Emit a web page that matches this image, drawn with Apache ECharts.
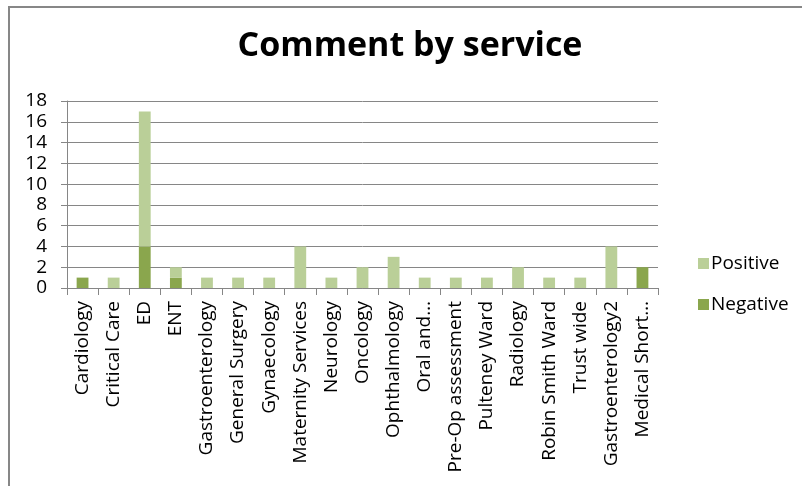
<!DOCTYPE html>
<html>
<head>
<meta charset="utf-8">
<style>
  html, body { margin: 0; padding: 0; background: #fff; }
  #frame { position: absolute; left: 8px; top: 6px; right: -4px; bottom: -4px; border: 2px solid #878787; }
  #chart { position: absolute; left: 0; top: 0; width: 802px; height: 486px; }
</style>
<script src="https://cdn.jsdelivr.net/npm/echarts@6/dist/echarts.min.js"></script>
</head>
<body>
<div id="frame"></div>
<div id="chart"></div>
<script>
const categories = [
  'Cardiology', 'Critical Care', 'ED', 'ENT', 'Gastroenterology', 'General Surgery',
  'Gynaecology', 'Maternity Services', 'Neurology', 'Oncology', 'Ophthalmology',
  'Oral and…', 'Pre-Op assessment', 'Pulteney Ward', 'Radiology', 'Robin Smith Ward',
  'Trust wide', 'Gastroenterology2', 'Medical Short…'
];
const negative = [1, 0, 4, 1, 0, 0, 0, 0, 0, 0, 0, 0, 0, 0, 0, 0, 0, 0, 2];
const positive = [0, 1, 13, 1, 1, 1, 1, 4, 1, 2, 3, 1, 1, 1, 2, 1, 1, 4, 0];
const yTicks = { min: 0, max: 18, interval: 2 };

const font = '"Open Sans", "Liberation Sans", sans-serif';
const chart = echarts.init(document.getElementById('chart'), null, { renderer: 'canvas' });

chart.setOption({
  animation: false,
  title: {
    text: 'Comment by service',
    left: 405,
    textAlign: 'center',
    top: 24,
    textStyle: { fontFamily: font, fontSize: 34, fontWeight: 'bold', color: '#000' }
  },
  legend: {
    orient: 'vertical',
    left: 693,
    top: 249,
    itemWidth: 11,
    itemHeight: 11,
    itemGap: 22,
    icon: 'rect',
    data: ['Positive', 'Negative'],
    textStyle: { fontFamily: font, fontSize: 19, color: '#000', padding: [0, 0, 0, -3] }
  },
  grid: { left: 67, right: 144, top: 101, bottom: 198, containLabel: false },
  xAxis: {
    type: 'category',
    data: categories,
    axisLine: { lineStyle: { color: '#868686', width: 1 } },
    axisTick: { show: true, length: 7, lineStyle: { color: '#868686' } },
    axisLabel: {
      interval: 0, rotate: 90, margin: 13,
      fontFamily: font, fontSize: 19, color: '#000'
    }
  },
  yAxis: {
    type: 'value',
    min: yTicks.min, max: yTicks.max, interval: yTicks.interval,
    axisLine: { show: true, lineStyle: { color: '#868686', width: 1 } },
    axisTick: { show: true, length: 6, lineStyle: { color: '#868686' } },
    axisLabel: { fontFamily: font, fontSize: 19, color: '#000', margin: 20 },
    splitLine: { lineStyle: { color: '#868686', width: 1 } }
  },
  series: [
    {
      name: 'Negative', type: 'bar', stack: 'total', data: negative,
      barWidth: '38%',
      itemStyle: { color: '#8AA64D' }
    },
    {
      name: 'Positive', type: 'bar', stack: 'total', data: positive,
      barWidth: '38%',
      itemStyle: { color: '#BACF98' }
    }
  ]
});
</script>
</body>
</html>
